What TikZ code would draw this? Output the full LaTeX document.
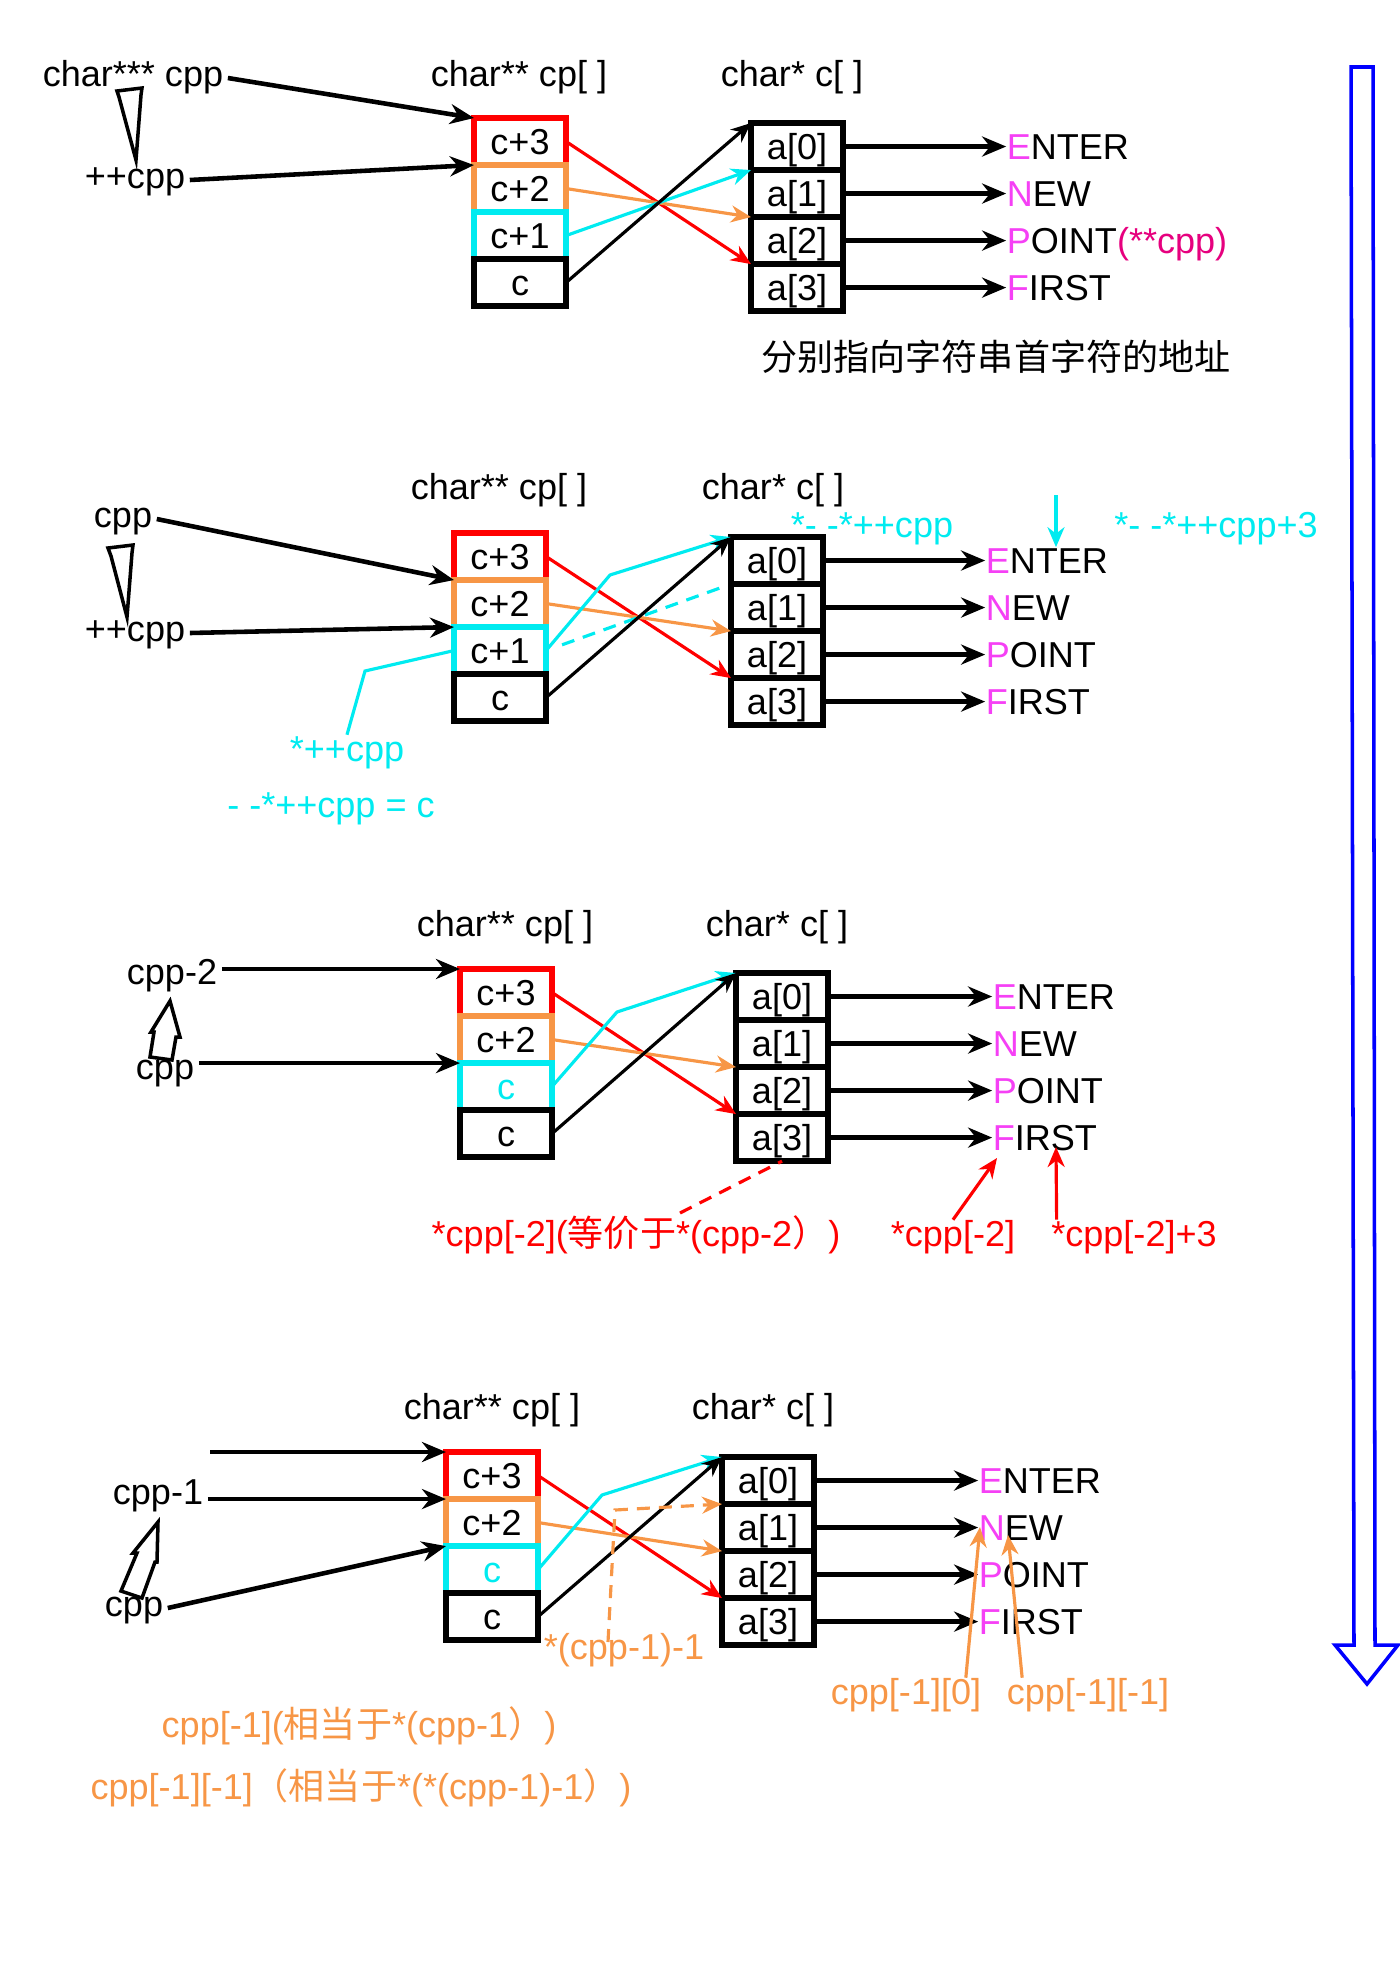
\documentclass[tikz,border=0pt]{standalone}
\usepackage{fontspec}
\setmainfont{Liberation Sans}
\newfontfamily\cjk{Noto Sans CJK SC}
\usepackage{xcolor}
\usetikzlibrary{positioning,arrows.meta}
\definecolor{cpcyan}{RGB}{0,235,240}
\definecolor{cporange}{RGB}{247,150,70}
\definecolor{cpmag}{RGB}{245,64,245}
\definecolor{cppink}{RGB}{230,0,126}
\tikzset{
    cell/.style={draw, line width=1.5pt, minimum width=0.92cm, minimum height=0.47cm,
        inner sep=0pt, outer sep=0pt, text height=.72em, text depth=0pt},
    lbl/.style={inner xsep=0.04cm, inner ysep=0pt, text height=.75em, text depth=.25em},
    word/.style={anchor=west, inner sep=0pt, text height=.72em, text depth=0pt},
    ptr/.style={line width=1.3pt, ->},
    link/.style={line width=0.9pt, >={Stealth[length=0.2cm,width=0.17cm]}, ->},
    hollow/.style={line width=1pt},
    dashline/.style={line width=0.9pt, dash pattern=on 0.13cm off 0.09cm},
}

\begin{document}
\begin{tikzpicture}[x=0.01cm, y=-0.01cm, font=\fontsize{10.25pt}{12pt}\selectfont,
    >={Stealth[length=0.24cm,width=0.2cm]}]
\useasboundingbox (0,0) rectangle (1400,1975);

    \node[lbl] (cpp1) at (133,78) {char*** cpp};
    \node[lbl] (inc1) at (135,180) {++cpp};
    \node[lbl] (cpn1) at (519,78) {char** cp[ ]};
    \node[lbl] (cn1) at (792,78) {char* c[ ]};
    \node[cell, draw=red, anchor=north west] (p1r) at (474,118) {c+3};
    \node[cell, draw=cporange, below=0pt of p1r] (p1o) {c+2};
    \node[cell, draw=cpcyan, below=0pt of p1o] (p1c) {c+1};
    \node[cell, below=0pt of p1c] (p1k) {c};
    \node[cell, anchor=north west] (p1a0) at (751,123) {a[0]};
    \node[cell, below=0pt of p1a0] (p1a1) {a[1]};
    \node[cell, below=0pt of p1a1] (p1a2) {a[2]};
    \node[cell, below=0pt of p1a2] (p1a3) {a[3]};
    \node[word, right=1.63cm of p1a0] (p1w0) {\textcolor{cpmag}{E}NTER};
    \node[word, right=1.63cm of p1a1] (p1w1) {\textcolor{cpmag}{N}EW};
    \node[word, right=1.63cm of p1a2] (p1w2) {\textcolor{cpmag}{P}OINT\textcolor{cppink}{(**cpp)}};
    \node[word, right=1.63cm of p1a3] (p1w3) {\textcolor{cpmag}{F}IRST};
    \node[lbl] (note1) at (996,362) {\cjk 分别指向字符串首字符的地址};
    \draw[ptr] (cpp1.east) -- (p1r.north west);
    \draw[ptr] (inc1.east) -- (p1o.north west);
    \draw[hollow] (117,91) -- (142,88) -- (141,95) -- (136,160) -- (119,97) -- cycle;
    \draw[link, red] (p1r.east) -- (p1a3.north west);
    \draw[link, cporange] (p1o.east) -- (p1a2.north west);
    \draw[link, cpcyan] (p1c.east) -- (p1a1.north west);
    \draw[link] (p1k.east) -- (p1a0.north west);
    \draw[ptr] (p1a0) -- (p1w0);
    \draw[ptr] (p1a1) -- (p1w1);
    \draw[ptr] (p1a2) -- (p1w2);
    \draw[ptr] (p1a3) -- (p1w3);

    \node[lbl] (cpn2) at (499,491) {char** cp[ ]};
    \node[lbl] (cn2) at (773,491) {char* c[ ]};
    \node[lbl] (cpp2) at (123,519) {cpp};
    \node[lbl] (inc2) at (135,633) {++cpp};
    \node[cell, draw=red, anchor=north west] (p2r) at (454,533) {c+3};
    \node[cell, draw=cporange, below=0pt of p2r] (p2o) {c+2};
    \node[cell, draw=cpcyan, below=0pt of p2o] (p2c) {c+1};
    \node[cell, below=0pt of p2c] (p2k) {c};
    \node[cell, anchor=north west] (p2a0) at (731,537) {a[0]};
    \node[cell, below=0pt of p2a0] (p2a1) {a[1]};
    \node[cell, below=0pt of p2a1] (p2a2) {a[2]};
    \node[cell, below=0pt of p2a2] (p2a3) {a[3]};
    \node[word, right=1.62cm of p2a0] (p2w0) {\textcolor{cpmag}{E}NTER};
    \node[word, right=1.62cm of p2a1] (p2w1) {\textcolor{cpmag}{N}EW};
    \node[word, right=1.62cm of p2a2] (p2w2) {\textcolor{cpmag}{P}OINT};
    \node[word, right=1.62cm of p2a3] (p2w3) {\textcolor{cpmag}{F}IRST};
    \node[lbl, text=cpcyan] (lab2a) at (347,753) {*++cpp};
    \node[lbl, text=cpcyan] (lab2b) at (331,809) {- -*++cpp = c};
    \node[lbl, text=cpcyan] (lab2c) at (872,529) {*- -*++cpp};
    \node[lbl, text=cpcyan] (lab2d) at (1216,529) {*- -*++cpp+3};
    \coordinate (d2) at (1056,495);
    \draw[ptr] (cpp2.east) -- (p2o.north west);
    \draw[ptr] (inc2.east) -- (p2c.north west);
    \draw[hollow] (108,548) -- (133,545) -- (132,553) -- (127,617) -- (111,556) -- cycle;
    \draw[line width=0.9pt, cpcyan] (p2c.west) -- (365,671) -- (lab2a.north);
    \draw[link, cpcyan] (d2) -- (d2 |- p2w0.north);
    \draw[link, red] (p2r.east) -- (p2a3.north west);
    \draw[link, cporange] (p2o.east) -- (p2a2.north west);
    \draw[link, cpcyan] (p2c.east) -- (610,575) -- (p2a0.north west);
    \draw[dashline, cpcyan, shorten <=0.17cm, shorten >=0.08cm] (p2c.east) -- (p2a1.north west);
    \draw[link] (p2k.east) -- (p2a0.north west);
    \draw[ptr] (p2a0) -- (p2w0);
    \draw[ptr] (p2a1) -- (p2w1);
    \draw[ptr] (p2a2) -- (p2w2);
    \draw[ptr] (p2a3) -- (p2w3);

    \node[lbl] (cpn3) at (505,928) {char** cp[ ]};
    \node[lbl] (cn3) at (777,928) {char* c[ ]};
    \node[lbl] (cpp3a) at (172,976) {cpp-2};
    \node[lbl] (cpp3b) at (165,1071) {cpp};
    \node[cell, draw=red, anchor=north west] (p3r) at (460,969) {c+3};
    \node[cell, draw=cporange, below=0pt of p3r] (p3o) {c+2};
    \node[cell, draw=cpcyan, below=0pt of p3o] (p3c) {\textcolor{cpcyan}{c}};
    \node[cell, below=0pt of p3c] (p3k) {c};
    \node[cell, anchor=north west] (p3a0) at (736,973) {a[0]};
    \node[cell, below=0pt of p3a0] (p3a1) {a[1]};
    \node[cell, below=0pt of p3a1] (p3a2) {a[2]};
    \node[cell, below=0pt of p3a2] (p3a3) {a[3]};
    \node[word, right=1.64cm of p3a0] (p3w0) {\textcolor{cpmag}{E}NTER};
    \node[word, right=1.64cm of p3a1] (p3w1) {\textcolor{cpmag}{N}EW};
    \node[word, right=1.64cm of p3a2] (p3w2) {\textcolor{cpmag}{P}OINT};
    \node[word, right=1.64cm of p3a3] (p3w3) {\textcolor{cpmag}{F}IRST};
    \node[lbl, text=red] (lab3a) at (636,1238) {*cpp[-2]({\cjk 等价于}*(cpp-2{\cjk ）})};
    \node[lbl, text=red] (lab3b) at (953,1238) {*cpp[-2]};
    \node[lbl, text=red] (lab3c) at (1134,1238) {*cpp[-2]+3};
    \coordinate (r3) at (680,1213);
    \coordinate (f3) at (997,1158);
    \coordinate (s3) at (1056,1147);
    \draw[ptr] (cpp3a.east |- p3r.north west) -- (p3r.north west);
    \draw[ptr] (cpp3b.east |- p3c.north west) -- (p3c.north west);
    \draw[hollow] (170,1001) -- (180,1037) -- (176,1037) -- (172,1060) -- (150,1057) -- (154,1032) -- (151,1032) -- cycle;
    \draw[link, red] (p3r.east) -- (p3a3.north west);
    \draw[link, cporange] (p3o.east) -- (p3a2.north west);
    \draw[link, cpcyan] (p3c.east) -- (617,1012) -- (p3a0.north west);
    \draw[link] (p3k.east) -- (p3a0.north west);
    \draw[ptr] (p3a0) -- (p3w0);
    \draw[ptr] (p3a1) -- (p3w1);
    \draw[ptr] (p3a2) -- (p3w2);
    \draw[ptr] (p3a3) -- (p3w3);
    \draw[dashline, red] (r3) -- (p3a3.south);
    \draw[link, red] (lab3b.north) -- (f3);
    \draw[link, red] ([xshift=0.1cm]lab3c.north west) -- (s3);

    \node[lbl] (cpn4) at (492,1411) {char** cp[ ]};
    \node[lbl] (cn4) at (763,1411) {char* c[ ]};
    \node[lbl] (cpp4a) at (158,1496) {cpp-1};
    \node[lbl] (cpp4b) at (134,1608) {cpp};
    \node[cell, draw=red, anchor=north west] (p4r) at (446,1452) {c+3};
    \node[cell, draw=cporange, below=0pt of p4r] (p4o) {c+2};
    \node[cell, draw=cpcyan, below=0pt of p4o] (p4c) {\textcolor{cpcyan}{c}};
    \node[cell, below=0pt of p4c] (p4k) {c};
    \node[cell, anchor=north west] (p4a0) at (722,1457) {a[0]};
    \node[cell, below=0pt of p4a0] (p4a1) {a[1]};
    \node[cell, below=0pt of p4a1] (p4a2) {a[2]};
    \node[cell, below=0pt of p4a2] (p4a3) {a[3]};
    \node[word, right=1.64cm of p4a0] (p4w0) {\textcolor{cpmag}{E}NTER};
    \node[word, right=1.64cm of p4a1] (p4w1) {\textcolor{cpmag}{N}EW};
    \node[word, right=1.64cm of p4a2] (p4w2) {\textcolor{cpmag}{P}OINT};
    \node[word, right=1.64cm of p4a3] (p4w3) {\textcolor{cpmag}{F}IRST};
    \node[lbl, text=cporange] (lab4a) at (624,1651) {*(cpp-1)-1};
    \node[lbl, text=cporange] (lab4b) at (906,1696) {cpp[-1][0]};
    \node[lbl, text=cporange] (lab4c) at (1088,1696) {cpp[-1][-1]};
    \node[lbl, text=cporange] (lab4d) at (359,1729) {cpp[-1]({\cjk 相当于}*(cpp-1{\cjk ）})};
    \node[lbl, text=cporange] (lab4e) at (361,1791) {cpp[-1][-1]{\cjk （相当于}*(*(cpp-1)-1{\cjk ）})};
    \coordinate (t4) at (210,1452);
    \coordinate (o4) at (608,1642);
    \coordinate (n4a) at (980,1527);
    \coordinate (n4b) at (1008,1535);
    \draw[ptr] (t4) -- (p4r.north west);
    \draw[ptr] (cpp4a.east |- p4o.north west) -- (p4o.north west);
    \draw[ptr] (cpp4b.east) -- (p4c.north west);
    \draw[hollow] (158,1522) -- (157,1562) -- (155,1562) -- (142,1598) -- (121,1591) -- (137,1553) -- (133,1553) -- cycle;
    \draw[link, red] (p4r.east) -- (p4a3.north west);
    \draw[link, cporange] (p4o.east) -- (p4a2.north west);
    \draw[link, cpcyan] (p4c.east) -- (602,1495) -- (p4a0.north west);
    \draw[link] (p4k.east) -- (p4a0.north west);
    \draw[dashline, cporange, >={Stealth[length=0.2cm,width=0.17cm]}, ->] (o4) -- (615,1510) -- (p4a1.north west);
    \draw[ptr] (p4a0) -- (p4w0);
    \draw[ptr] (p4a1) -- (p4w1);
    \draw[ptr] (p4a2) -- (p4w2);
    \draw[ptr] (p4a3) -- (p4w3);
    \draw[link, cporange] ([xshift=-0.2cm]lab4b.north east) -- (n4a);
    \draw[link, cporange] ([xshift=0.2cm]lab4c.north west) -- (n4b);

    \draw[line width=1pt, blue] (1351,67) -- (1373,67) -- (1375,1645) -- (1398,1645) -- (1367,1684) -- (1335,1645) -- (1354,1645) -- cycle;
\end{tikzpicture}
\end{document}
